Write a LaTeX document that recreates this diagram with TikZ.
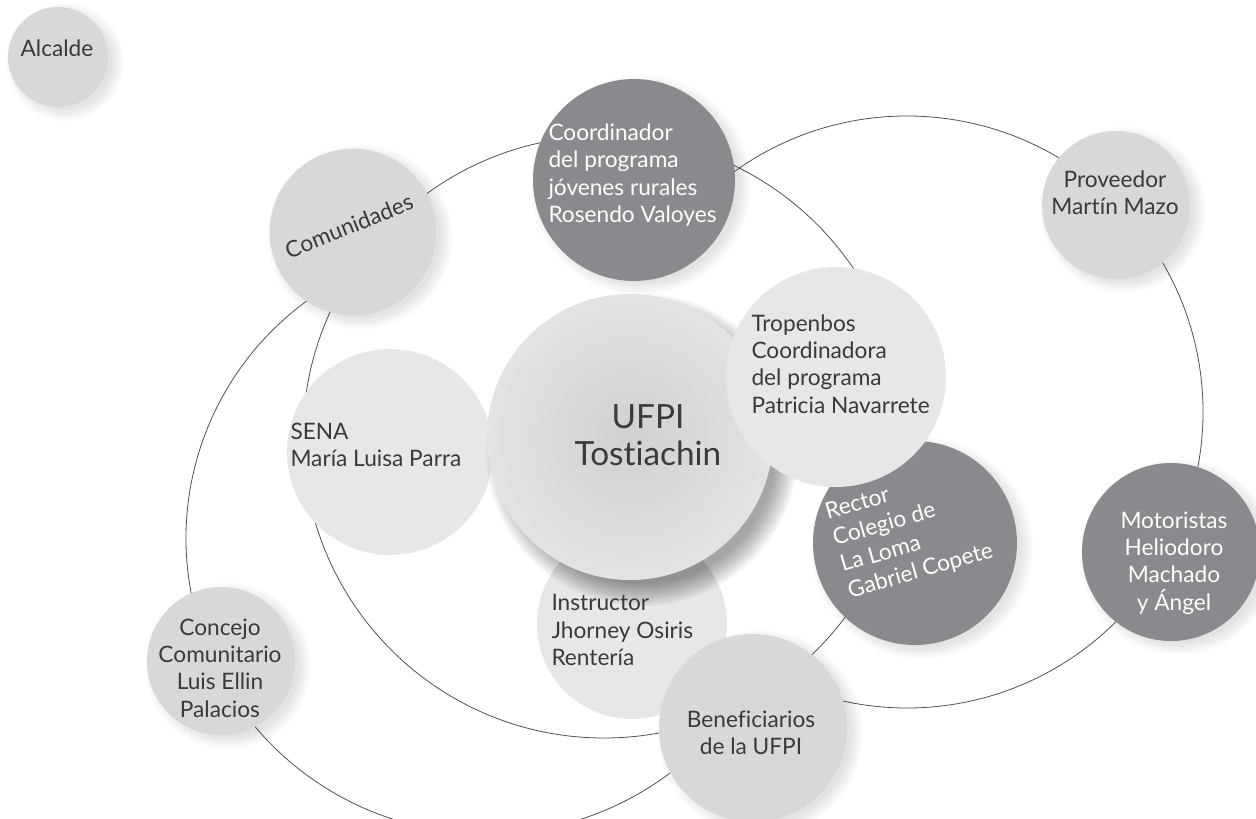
\documentclass[tikz,border=0pt]{standalone}
\usepackage{fontspec}
\setmainfont{Lato}[Ligatures=NoCommon]

\definecolor{paledisk}{RGB}{230,231,232}
\definecolor{softdisk}{RGB}{215,216,218}
\definecolor{darkdisk}{RGB}{137,138,141}
\definecolor{inktext}{RGB}{58,58,60}
\definecolor{orbitline}{RGB}{80,80,83}

\tikzset{every picture/.style={line width=0.75pt}}
\tikzset{
  disk/.style={circle, inner sep=0pt, outer sep=0pt},
  pale/.style={disk, fill=paledisk},
  soft/.style={disk, fill=softdisk},
  strong/.style={disk, fill=darkdisk},
  orbit/.style={draw=orbitline, line width=0.6pt},
  txt/.style={inner sep=0pt, text=inktext, font=\fontsize{17}{20.5}\selectfont},
  txtw/.style={txt, text=white},
}

\begin{document}
\begin{tikzpicture}[x=0.75pt,y=0.75pt,yscale=-1,xscale=1]
\useasboundingbox (0,0) rectangle (1256,818);

%Orbits
\coordinate (leftorbit) at (487,538);
\coordinate (midorbit) at (604,437);
\coordinate (rightorbit) at (907,412);
\draw[orbit] (leftorbit) ++(238:301 and 296) arc[start angle=238, end angle=45, x radius=301, y radius=296];
\draw[orbit] (midorbit) circle[radius=301];
\draw[orbit] (rightorbit) ++(232:296) arc[start angle=232, end angle=470, radius=296];

%Back disks
\node[pale, minimum size=142.5pt] (instructor) at (632,624) {};
\node[pale, minimum size=154.5pt] (sena) at (390,452) {};

%Shadow of the centre disk
\foreach \k in {0,...,11}
  \fill[black, opacity=0.035] (642,450) circle[radius=156-2*\k];
\node[disk, minimum size=214.5pt, inner color={rgb,255:red,207;green,208;blue,210}, outer color={rgb,255:red,226;green,227;blue,228}] (ufpi) at (630,437) {};

%Soft shadows
\foreach \cx/\cy/\r in {58/57/50, 353/232/83.5, 634/180/101, 1116/205/74, 915/543/102, 753/728/94, 1171/552/89, 221/661/74}{
  \foreach \k in {0,...,6}
    \fill[black, opacity=0.014] (\cx+7,\cy+5) circle[radius=\r+9-2*\k];
}

%Front disks
\node[strong, minimum size=153pt] (rector) at (915,543) {};
\node[pale, minimum size=165pt] (tropenbos) at (836,377) {};
\node[soft, minimum size=141pt] (beneficiarios) at (753,728) {};
\node[strong, minimum size=151.5pt] (coordinador) at (634,180) {};
\node[soft, minimum size=125pt] (comunidades) at (353,232) {};
\node[soft, minimum size=75pt] (alcalde) at (58,57) {};
\node[soft, minimum size=111pt] (proveedor) at (1116,205) {};
\node[strong, minimum size=133.5pt] (motoristas) at (1171,552) {};
\node[soft, minimum size=111pt] (concejo) at (221,661) {};

% Text Node
\node[txt] (alcalde-t) at (57,48) {Alcalde};
\node[txt, rotate=22] (comunidades-t) at (349,226) {Comunidades};
\node[txtw, align=left, anchor=west] (coordinador-t) at (548,175) {Coordinador\\del programa\\jóvenes rurales\\Rosendo Valoyes};
\node[txt, align=center] (proveedor-t) at (1115,193) {Proveedor\\Martín Mazo};
\node[txt, align=left, anchor=west] (tropenbos-t) at (751,364) {Tropenbos\\Coordinadora\\del programa\\Patricia Navarrete};
\node[txt, align=left, anchor=west] (sena-t) at (290,445) {SENA\\María Luisa Parra};
\node[txt, align=center, font=\fontsize{25}{28}\selectfont] (ufpi-t) at (648,435) {UFPI\\Tostiachin};
\node[txt, align=left, anchor=west] (instructor-t) at (551,630) {Instructor\\Jhorney Osiris\\Rentería};
\node[txt, align=center] (beneficiarios-t) at (751,733) {Beneficiarios\\de la UFPI};
\node[txtw, align=left, anchor=west, rotate=16] (rector-t) at (837,553) {Rector\\Colegio de\\La Loma\\Gabriel Copete};
\node[txtw, align=center] (motoristas-t) at (1174,563) {Motoristas\\Heliodoro\\Machado\\y Ángel};
\node[txt, align=center] (concejo-t) at (220,668) {Concejo\\Comunitario\\Luis Ellin\\Palacios};

\end{tikzpicture}
\end{document}
